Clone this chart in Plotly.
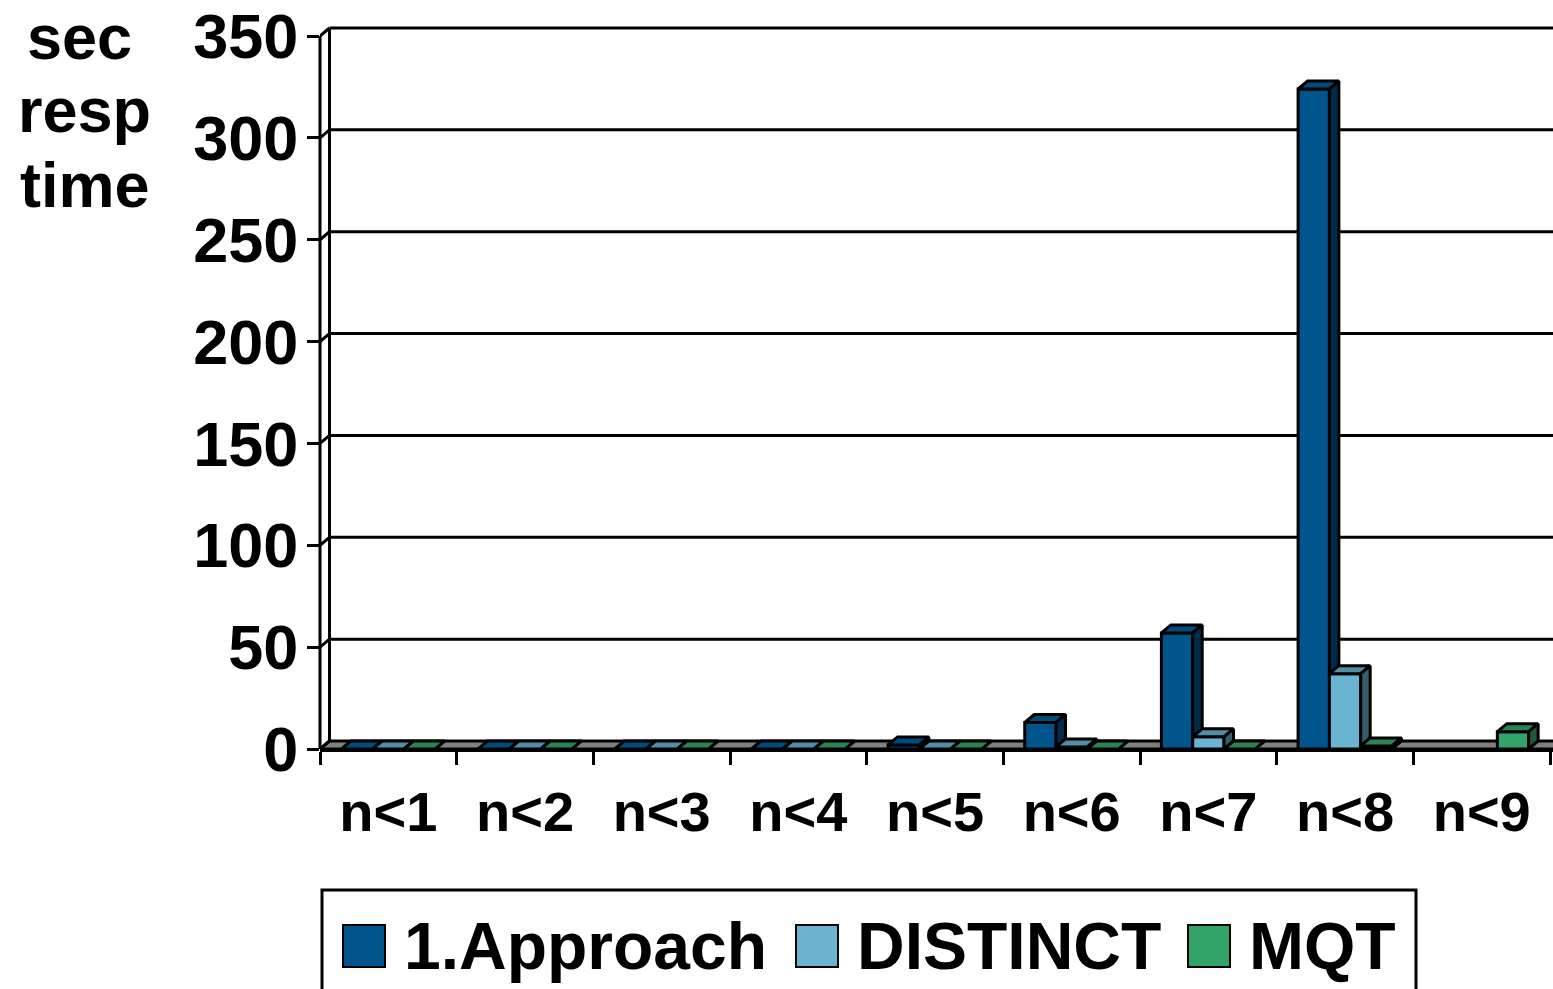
import plotly.graph_objects as go

# ---- data -------------------------------------------------------------
categories = ["n<1", "n<2", "n<3", "n<4", "n<5", "n<6", "n<7", "n<8", "n<9"]
approach = [0, 0, 0, 0, 2, 13, 57, 324, None]
distinct = [0, 0, 0, 0, 0, 1, 6, 37, None]
mqt = [0, 0, 0, 0, 0, 0, 0, 1.5, 8.5]
series_names = ["1.Approach", "DISTINCT", "MQT"]
y_ticks = [0, 50, 100, 150, 200, 250, 300, 350]

# ---- styling ----------------------------------------------------------
FONT = "Liberation Sans"
front_colors = ["#00558C", "#6AB4D1", "#32A46A"]
top_colors = ["#004A7C", "#4F8EA6", "#2A8454"]
side_colors = ["#002C4C", "#365D6C", "#1D5B3A"]
FLOOR = "#808080"
LW = 3

W, H = 1553, 989
ML, MR, MT, MB = 320, 0, 24, 240
Y_TOP = 355.9
plot_w = W - ML - MR
plot_h = H - MT - MB
cat_px = 136.67
x_lo = -0.5
x_hi = x_lo + plot_w / cat_px
ky = plot_h / Y_TOP  # px per unit

# depth of the pseudo-3D extrusion, in axis units
dxu = 9.5 / cat_px
dyu = 8.0 / ky

BARGAP = 0.313
bw = (1 - BARGAP) / 3

series = [approach, distinct, mqt]
n = len(categories)

fig = go.Figure()

# front faces
for j, (name, vals) in enumerate(zip(series_names, series)):
    fig.add_trace(go.Bar(
        x=list(range(n)), y=vals, name=name,
        marker=dict(color=front_colors[j], line=dict(color="black", width=LW)),
        showlegend=False, hoverinfo="skip",
    ))

# top and side faces, drawn series by series so neighbours overlap correctly
for j, vals in enumerate(series):
    tx, ty, sx, sy = [], [], [], []
    for c in range(n):
        v = vals[c]
        if v is None:
            continue
        xl = c - 1.5 * bw + j * bw
        xr = xl + bw
        tx += [xl, xr, xr + dxu, xl + dxu, xl, None]
        ty += [v, v, v + dyu, v + dyu, v, None]
        base = 0
        if j + 1 < len(series):
            nxt = series[j + 1][c]
            if nxt is not None:
                base = min(v, nxt)
        if v > base:
            sx += [xr, xr, xr + dxu, xr + dxu, xr, None]
            sy += [base, v, v + dyu, base + dyu, base, None]
    fig.add_trace(go.Scatter(x=tx, y=ty, mode="lines", fill="toself",
                             fillcolor=top_colors[j],
                             line=dict(color="black", width=LW),
                             showlegend=False, hoverinfo="skip"))
    if sx:
        fig.add_trace(go.Scatter(x=sx, y=sy, mode="lines", fill="toself",
                                 fillcolor=side_colors[j],
                                 line=dict(color="black", width=LW),
                                 showlegend=False, hoverinfo="skip"))

shapes = []
# floor
shapes.append(dict(type="path", xref="x", yref="y", layer="below",
                   path=f"M {x_lo},0 L {x_hi + 1},0 L {x_hi + 1},{dyu} L {x_lo + dxu},{dyu} Z",
                   fillcolor=FLOOR, line=dict(color="black", width=LW)))
# back wall: left edge and gridlines
shapes.append(dict(type="line", xref="x", yref="y", layer="below",
                   x0=x_lo + dxu, x1=x_lo + dxu, y0=dyu, y1=y_ticks[-1] + dyu,
                   line=dict(color="black", width=LW)))
for v in y_ticks[1:]:
    shapes.append(dict(type="line", xref="x", yref="y", layer="below",
                       x0=x_lo + dxu, x1=x_hi + 1, y0=v + dyu, y1=v + dyu,
                       line=dict(color="black", width=LW)))
for v in y_ticks:
    shapes.append(dict(type="line", xref="x", yref="y", layer="below",
                       x0=x_lo, x1=x_lo + dxu, y0=v, y1=v + dyu,
                       line=dict(color="black", width=LW)))
# front vertical axis
shapes.append(dict(type="line", xref="paper", yref="y", layer="above",
                   x0=0, x1=0, y0=0, y1=y_ticks[-1],
                   line=dict(color="black", width=3)))


def px_x(p):
    return (p - ML) / plot_w


def px_y(p):
    return (H - MB - p) / plot_h


# legend box and entries
shapes.append(dict(type="rect", xref="paper", yref="paper",
                   x0=px_x(322), x1=px_x(1416), y0=px_y(1010), y1=px_y(890),
                   line=dict(color="black", width=LW), fillcolor="white"))
legend_sq = [343, 796, 1188]
legend_tx = [405, 858, 1250]
annotations = []
for j, name in enumerate(series_names):
    shapes.append(dict(type="rect", xref="paper", yref="paper",
                       x0=px_x(legend_sq[j]), x1=px_x(legend_sq[j] + 42),
                       y0=px_y(967), y1=px_y(925),
                       fillcolor=front_colors[j], line=dict(color="black", width=2)))
    annotations.append(dict(text=name, xref="paper", yref="paper",
                            x=px_x(legend_tx[j] - 3), y=px_y(946),
                            xanchor="left", yanchor="middle", showarrow=False,
                            font=dict(family=FONT, size=66, color="black", weight="bold")))

# axis caption
for txt, cx, cy in [("sec", 80, 37), ("resp", 84, 110), ("time", 85, 185)]:
    annotations.append(dict(text=txt, xref="paper", yref="paper",
                            x=px_x(cx), y=px_y(cy), xanchor="center", yanchor="middle",
                            showarrow=False,
                            font=dict(family=FONT, size=63, color="black", weight="bold")))

fig.update_layout(
    width=W, height=H,
    margin=dict(l=ML, r=MR, t=MT, b=MB, pad=0),
    paper_bgcolor="white", plot_bgcolor="white",
    barmode="group", bargap=BARGAP, bargroupgap=0,
    showlegend=False,
    shapes=shapes, annotations=annotations,
    xaxis=dict(
        range=[x_lo, x_hi], tickmode="array", tickvals=list(range(n)), ticktext=categories,
        ticks="", showgrid=False, zeroline=False,
        showline=True, linecolor="black", linewidth=3,
        tickfont=dict(family=FONT, size=56, color="black", weight="bold"),
        ticklabelstandoff=12,
        minor=dict(tickmode="array", tickvals=[i - 0.5 for i in range(n + 1)],
                   ticks="outside", ticklen=13, tickwidth=3, tickcolor="black",
                   showgrid=False),
    ),
    yaxis=dict(
        range=[0, Y_TOP], tickmode="array", tickvals=y_ticks,
        ticks="outside", ticklen=12, tickwidth=3, tickcolor="black",
        showgrid=False, zeroline=False, showline=False,
        tickfont=dict(family=FONT, size=63, color="black", weight="bold"),
        ticklabelstandoff=-4,
    ),
)

fig.write_html("out.html")
